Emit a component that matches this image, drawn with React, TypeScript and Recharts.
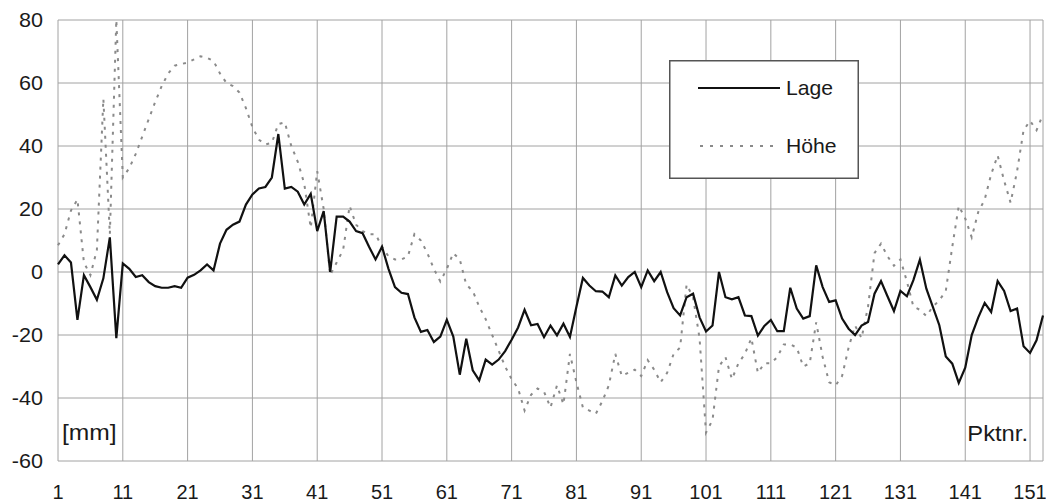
import React from "react"
import {
  LineChart,
  Line,
  XAxis,
  YAxis,
  CartesianGrid,
  Legend,
} from "recharts"

// Lage (horizontal deviation) per point, mm
const lage = [
  2.4, 5.3, 3, -15.2, -1, -4.8, -8.8, -2, 11, -21,
  2.7, 1, -1.6, -1, -3.2, -4.5, -5, -5, -4.5, -5,
  -1.8, -0.9, 0.5, 2.4, 0.5, 9, 13.4, 15, 16, 21.4,
  24.6, 26.5, 27, 30, 43.8, 26.5, 27, 25.5, 21.4, 24.8,
  13, 19.3, 0, 17.6, 17.6, 16, 13, 12.3, 8, 4,
  8, 1, -4.8, -6.6, -7, -14.4, -19, -18.4, -22.2, -20.5,
  -15.2, -20.5, -32.6, -21.2, -31.2, -34.4, -27.8, -29.4, -27.8, -25.1,
  -21.5, -17.6, -12, -16.9, -16.5, -20.7, -17, -20.1, -16.4, -20.6,
  -11, -1.9, -4.3, -6.1, -6.2, -8, -1.1, -4.3, -1.6, 0,
  -4.8, 0.5, -2.9, 0, -6.4, -11.5, -13.8, -8, -6.9, -14.4,
  -18.9, -17, 0, -8, -8.7, -8, -13.8, -14, -20.2, -17.1,
  -15.2, -18.8, -18.8, -5, -11.6, -14.8, -14, 2.1, -4.8, -9.5,
  -9, -14.8, -18, -20, -17, -15.9, -6.9, -2.9, -7.7, -12.4,
  -6, -7.7, -2.6, 3.9, -5.3, -11.1, -16.9, -26.8, -29.1, -35.2,
  -30.4, -20, -14.5, -9.8, -12.7, -2.9, -6, -12.4, -11.6, -23.6,
  -25.7, -21.7, -13.8,
]

// Höhe (vertical deviation) per point, mm
const hoehe = [
  8.5, 12, 19.5, 23, 3, -1, 7, 55, 12, 80,
  30, 33, 37.5, 43, 48.5, 54, 59, 63, 65.5, 66,
  66.5, 67.5, 68.5, 68, 67, 63, 60, 59, 57, 52,
  46, 42, 40.5, 41, 47, 47.5, 40, 35, 28, 14,
  32, 20, -1, 3, 7, 21, 15, 13, 12, 12,
  8, 5, 4, 4, 5, 12, 10, 6, 1, -3,
  1, 6, 4, -4, -6, -11, -15, -20, -25, -30,
  -34, -37, -44, -39, -37, -38, -43, -36, -42, -26,
  -35, -43, -44, -45, -41, -36, -26, -33, -32, -31,
  -33, -28, -31, -35, -32, -26, -24, -4, -8, -21,
  -51, -47, -30, -27, -34, -29, -26, -21, -32, -29,
  -29, -27, -23, -23, -24, -30, -29, -16, -27, -35,
  -36, -33, -24, -17, -21, -11, 6, 9, 5, 2,
  4, -3, -11, -12, -14, -11, -9, -6, 8, 21,
  17, 11, 19, 23, 31, 37, 29, 22, 32, 45,
  48, 45, 50,
]

const xTicks = [1, 11, 21, 31, 41, 51, 61, 71, 81, 91, 101, 111, 121, 131, 141, 151]
const yTicks = [-60, -40, -20, 0, 20, 40, 60, 80]

const data = lage.map((v, i) => ({ pkt: i + 1, lage: v, hoehe: hoehe[i] }))

const FONT = "'Liberation Sans', Arial, sans-serif"
const TEXT = "#1a1a1a"
const HOEHE_COLOR = "#8a8a8a"

function YTick({ x, y, payload }: any) {
  return (
    <g transform={`translate(${x},${y})`}>
      <text
        x={0}
        y={0}
        dy="0.36em"
        textAnchor="end"
        fontSize={20}
        fontFamily={FONT}
        fill={TEXT}
        transform="scale(1.08,1)"
      >
        {payload.value}
      </text>
    </g>
  )
}

function XTick({ x, y, payload }: any) {
  return (
    <text
      x={x}
      y={y + 38}
      textAnchor="middle"
      fontSize={20}
      fontFamily={FONT}
      fill={TEXT}
    >
      {payload.value}
    </text>
  )
}

function UnitLabel({ viewBox }: any) {
  const { x, y, width, height } = viewBox
  return (
    <text
      transform={`translate(${x + width + 4},${y + height - 21}) scale(1.12,1)`}
      fontSize={22}
      fontFamily={FONT}
      fill={TEXT}
    >
      [mm]
    </text>
  )
}

function PktLabel({ viewBox }: any) {
  const { x, y, width } = viewBox
  return (
    <text
      transform={`translate(${x + width - 15},${y - 20}) scale(1.08,1)`}
      textAnchor="end"
      fontSize={22}
      fontFamily={FONT}
      fill={TEXT}
    >
      Pktnr.
    </text>
  )
}

function LegendBox() {
  return (
    <svg width={190} height={119} style={{ display: "block" }}>
      <rect x={0.75} y={0.75} width={188.5} height={117.5} fill="#fff" stroke="#555" strokeWidth={1.5} />
      <line x1={29} x2={111} y1={28} y2={28} stroke="#111" strokeWidth={2} />
      <text
        transform="translate(117,28) scale(1.06,1)"
        dy="0.36em"
        fontSize={20}
        fontFamily={FONT}
        fill={TEXT}
      >
        Lage
      </text>
      <line
        x1={31}
        x2={109}
        y1={86}
        y2={86}
        stroke={HOEHE_COLOR}
        strokeWidth={2}
        strokeDasharray="3 7"
      />
      <text
        transform="translate(117,86) scale(1.06,1)"
        dy="0.36em"
        fontSize={20}
        fontFamily={FONT}
        fill={TEXT}
      >
        Höhe
      </text>
    </svg>
  )
}

export default function App() {
  return (
    <div style={{ position: "absolute", left: 0, top: 0, background: "#fff" }}>
      <LineChart
        width={1046}
        height={503}
        data={data}
        margin={{ top: 20, right: 3, bottom: 0, left: 0 }}
      >
        <CartesianGrid stroke="#a2a2a2" strokeWidth={1} />
        <XAxis
          dataKey="pkt"
          type="number"
          domain={[1, 153]}
          ticks={xTicks}
          interval={0}
          height={42}
          tickSize={0}
          tickMargin={0}
          axisLine={false}
          tickLine={false}
          tick={<XTick />}
          label={<PktLabel />}
        />
        <YAxis
          type="number"
          domain={[-60, 80]}
          ticks={yTicks}
          interval={0}
          width={58}
          tickSize={0}
          tickMargin={15}
          axisLine={false}
          tickLine={false}
          tick={<YTick />}
          label={<UnitLabel />}
        />
        <Legend
          layout="horizontal"
          verticalAlign="middle"
          align="center"
          content={() => <LegendBox />}
          wrapperStyle={{ left: 669, top: 60, width: 190, height: 119 }}
        />
        <Line
          type="linear"
          dataKey="hoehe"
          stroke={HOEHE_COLOR}
          strokeWidth={2}
          strokeDasharray="3 6"
          dot={false}
          isAnimationActive={false}
        />
        <Line
          type="linear"
          dataKey="lage"
          stroke="#111"
          strokeWidth={2.2}
          dot={false}
          isAnimationActive={false}
        />
      </LineChart>
    </div>
  )
}
